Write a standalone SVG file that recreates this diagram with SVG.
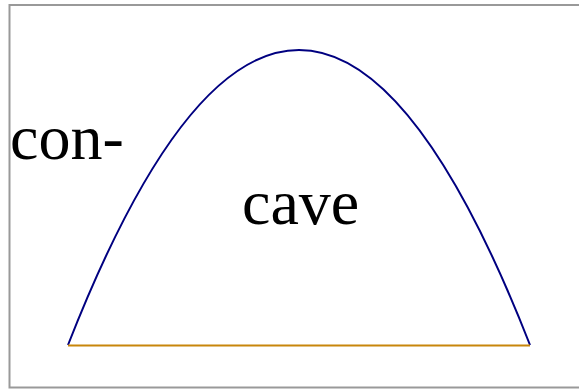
<svg xmlns="http://www.w3.org/2000/svg" width="579" height="389" viewBox="0 0 579 389">
<style>
.lbl{font-family:"Liberation Serif","Times New Roman",serif;font-size:64px;fill:#000}
</style>
<rect x="9.5" y="5" width="575" height="382.5" fill="#fff" stroke="#999" stroke-width="2"/>
<g id="connectors">
<path id="curve" d="M68,345 Q299,-245 530,345" fill="none" stroke="#000080" stroke-width="2"/>
<line id="base" x1="68" y1="345.5" x2="530" y2="345.5" stroke="#c8860b" stroke-width="2"/>
</g>
<g id="label-con"><text class="lbl" x="10" y="159">con-</text></g>
<g id="label-cave"><text class="lbl" x="242" y="224">cave</text></g>
</svg>
